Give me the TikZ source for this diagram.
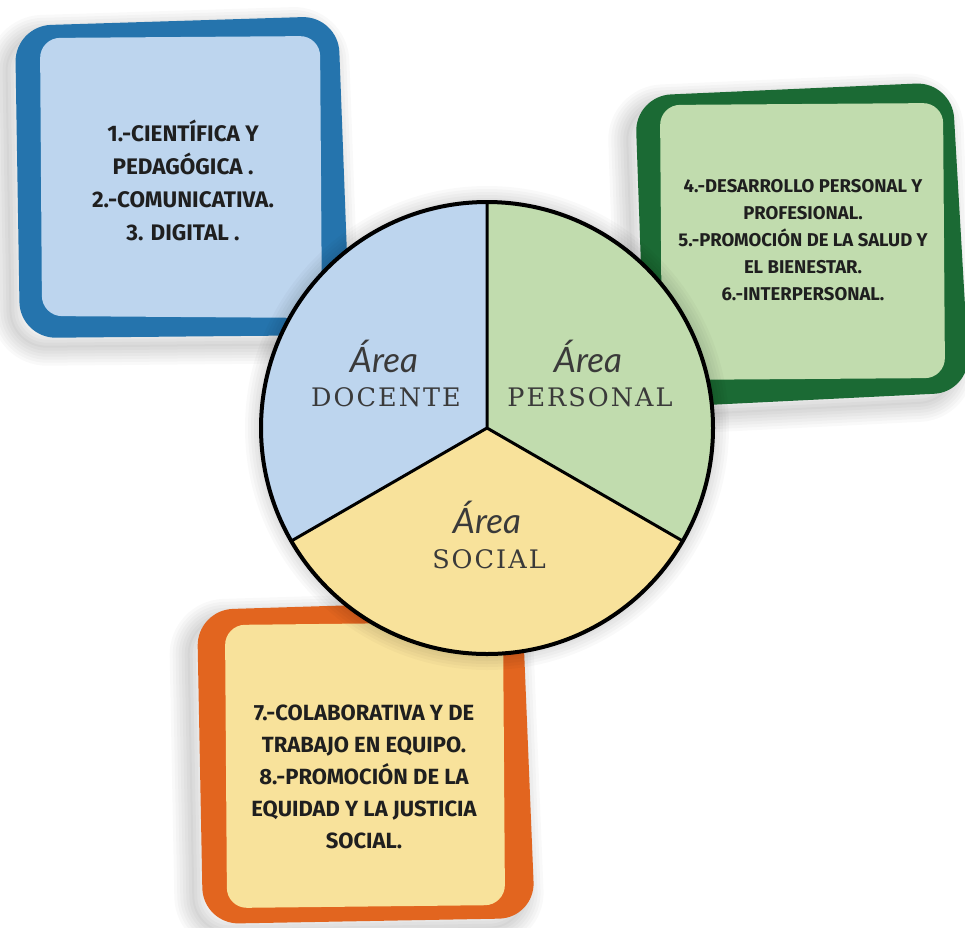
\documentclass[tikz,border=0pt]{standalone}
\usepackage{fontspec}
\setmainfont{Fira Sans}
\newfontfamily\areafont{Lato}
\newfontfamily\slabfont[LetterSpace=8]{DejaVu Serif}
\usetikzlibrary{positioning}

\definecolor{blueDark}{HTML}{2574AD}
\definecolor{blueLight}{HTML}{BDD5EE}
\definecolor{greenDark}{HTML}{1B6A34}
\definecolor{greenLight}{HTML}{C1DCAE}
\definecolor{orangeDark}{HTML}{E2651F}
\definecolor{yellowLight}{HTML}{F8E29B}
\definecolor{inkGrey}{HTML}{3A3A3A}

\tikzset{
  outerbox/.style={rounded corners=36pt},
  innerbox/.style={rounded corners=20pt},
  listtext/.style={align=center, text=black!88},
  areaword/.style={font=\areafont\itshape\fontsize{35}{35}\selectfont, text=inkGrey, anchor=base},
  areaname/.style={font=\slabfont\fontsize{25.5}{25.5}\selectfont, text=inkGrey, anchor=base},
}

% soft grey shadow under a box given by its four corners
\newcommand{\softshadow}[4]{%
  \foreach \w in {2,8,...,38}
    \draw[line width=\w pt, black, opacity=0.025, rounded corners=36pt, xshift=-9pt, yshift=-9pt]
      #1 -- #2 -- #3 -- #4 -- cycle;
}

\begin{document}
\begin{tikzpicture}[x=1pt, y=-1pt]
	\useasboundingbox (0,0) rectangle (965,927);
	\fill[white] (0,0) rectangle (965,927);

	% blue box
	\softshadow{(15,26)}{(338,16)}{(350,335)}{(20,338)}
	\fill[blueDark, outerbox] (15,26) -- (338,16) -- (350,335) -- (20,338) -- cycle;
	\fill[blueLight, innerbox] (40,38) -- (320,36) -- (322,318) -- (42,316) -- cycle;
	\node[listtext, font=\bfseries\fontsize{22.5}{33}\selectfont] (blueText) at (183,180)
	  {1.-CIENTÍFICA Y\\PEDAGÓGICA .\\2.-COMUNICATIVA.\\3. DIGITAL .};

	% green box
	\softshadow{(635,96)}{(952,82)}{(965,392)}{(646,408)}
	\fill[greenDark, outerbox] (635,96) -- (952,82) -- (970,392) -- (646,408) -- cycle;
	\fill[greenLight, innerbox] (660,105) -- (943,103) -- (945,378) -- (662,380) -- cycle;
	\node[listtext, font=\bfseries\fontsize{18.5}{27}\selectfont] (greenText) at (803,240)
	  {4.-DESARROLLO PERSONAL Y\\PROFESIONAL.\\5.-PROMOCIÓN DE LA SALUD Y\\EL BIENESTAR.\\6.-INTERPERSONAL.};

	% orange box
	\softshadow{(197,610)}{(522,600)}{(535,918)}{(203,924)}
	\fill[orangeDark, outerbox] (197,610) -- (522,600) -- (535,918) -- (203,924) -- cycle;
	\fill[yellowLight, innerbox] (225,625) -- (503,622) -- (505,905) -- (227,908) -- cycle;
	\node[listtext, font=\bfseries\fontsize{22}{32}\selectfont] (orangeText) at (364,777)
	  {7.-COLABORATIVA Y DE\\TRABAJO EN EQUIPO.\\8.-PROMOCIÓN DE LA\\EQUIDAD Y LA JUSTICIA\\SOCIAL.};

	% pie
	\coordinate (c) at (487,428);
	\coordinate (top) at (487,202);
	\coordinate (bl) at (291.3,541);
	\coordinate (br) at (682.7,541);
	\foreach \w in {2,8,...,32}
	  \draw[line width=\w pt, black, opacity=0.025, xshift=-8pt, yshift=-8pt] (c) circle[radius=226];
	\fill[blueLight] (c) -- (top) arc[start angle=-90, end angle=-210, radius=226] -- cycle;
	\fill[greenLight] (c) -- (top) arc[start angle=-90, end angle=30, radius=226] -- cycle;
	\fill[yellowLight] (c) -- (br) arc[start angle=30, end angle=150, radius=226] -- cycle;
	\draw[line width=3pt] (c) -- (top) (c) -- (bl) (c) -- (br);
	\draw[line width=4pt] (c) circle[radius=226];

	\node[areaword] (docArea) at (384,372) {Área};
	\node[areaname] (docName) at (386,406) {DOCENTE};
	\node[areaword] (perArea) at (588,372) {Área};
	\node[areaname] (perName) at (590,406) {PERSONAL};
	\node[areaword] (socArea) at (487,533) {Área};
	\node[areaname] (socName) at (489,568) {SOCIAL};
\end{tikzpicture}
\end{document}
